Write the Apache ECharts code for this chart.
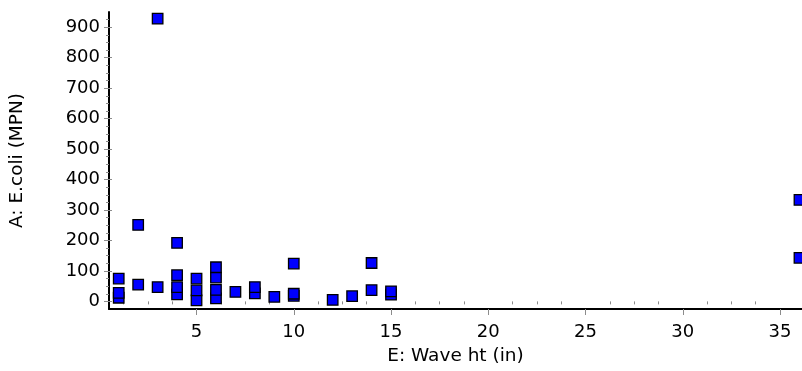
<!DOCTYPE html>
<html>
<head>
<meta charset="utf-8">
<script src="https://cdn.jsdelivr.net/npm/echarts@6/dist/echarts.min.js"></script>
<style>
html,body{margin:0;padding:0;background:#fff;}
#chart{width:802px;height:371px;}
</style>
</head>
<body>
<div id="chart"></div>
<script>
// Data (E: Wave ht (in) vs A: E.coli (MPN))
var waveHt = [1, 1, 1, 2, 2, 3, 3, 4, 4, 4, 4, 5, 5, 5, 6, 6, 6, 6, 7, 8, 8, 9, 10, 10, 10, 12, 13, 14, 14, 15, 15, 36, 36];
var ecoli  = [12, 28, 75, 251, 55, 928, 47, 192, 23, 47, 86, 3, 36, 75, 10, 38, 78, 112, 31, 26, 47, 15, 18, 25, 124, 5, 17, 37, 126, 22, 33, 333, 143];

var xTicks = [5, 10, 15, 20, 25, 30, 35];
var yTicks = [0, 100, 200, 300, 400, 500, 600, 700, 800, 900];
var xMinorTicks = [1.25, 2.5, 3.75, 6.25, 7.5, 8.75, 11.25, 12.5, 13.75, 16.25, 17.5, 18.75, 21.25, 22.5, 23.75, 26.25, 27.5, 28.75, 31.25, 32.5, 33.75];
var yMinorTicks = [25, 50, 75, 125, 150, 175, 225, 250, 275, 325, 350, 375, 425, 450, 475, 525, 550, 575, 625, 650, 675, 725, 750, 775, 825, 850, 875, 925];

var xMin = 0.5, xMax = 36.13, yMin = -25, yMax = 950;

var points = waveHt.map(function (x, i) { return [x, ecoli[i]]; });

var FONT = 'DejaVu Sans';
var tickColor = '#8c8c8c';

var chart = echarts.init(document.getElementById('chart'), null, {renderer: 'canvas'});
chart.setOption({
  animation: false,
  backgroundColor: '#ffffff',
  grid: {left: 109, right: 0, top: 12, bottom: 61, containLabel: false},
  xAxis: [
    {
      type: 'value', min: xMin, max: xMax, position: 'bottom',
      name: 'E: Wave ht (in)', nameLocation: 'middle', nameGap: 38,
      nameTextStyle: {fontFamily: FONT, fontSize: 18.5, color: '#000'},
      axisLine: {show: true, onZero: false, lineStyle: {color: '#000', width: 2}},
      axisTick: {show: true, length: 6, customValues: xTicks, lineStyle: {color: tickColor, width: 1}},
      axisLabel: {show: true, customValues: xTicks, margin: 14, fontFamily: FONT, fontSize: 18, color: '#000'},
      splitLine: {show: false}
    },
    {
      type: 'value', min: xMin, max: xMax, position: 'bottom',
      axisLine: {show: false},
      axisTick: {show: true, length: 3, customValues: xMinorTicks, lineStyle: {color: tickColor, width: 1}},
      axisLabel: {show: false, customValues: xMinorTicks},
      splitLine: {show: false}
    }
  ],
  yAxis: [
    {
      type: 'value', min: yMin, max: yMax, position: 'left',
      name: 'A: E.coli (MPN)', nameLocation: 'middle', nameGap: 82, nameRotate: 90,
      nameTextStyle: {fontFamily: FONT, fontSize: 18.5, color: '#000'},
      axisLine: {show: true, onZero: false, lineStyle: {color: '#000', width: 2}},
      axisTick: {show: true, length: 5, customValues: yTicks, lineStyle: {color: tickColor, width: 1}},
      axisLabel: {show: true, customValues: yTicks, margin: 9, fontFamily: FONT, fontSize: 18, color: '#000'},
      splitLine: {show: false}
    },
    {
      type: 'value', min: yMin, max: yMax, position: 'left',
      axisLine: {show: false},
      axisTick: {show: true, length: 3, customValues: yMinorTicks, lineStyle: {color: tickColor, width: 1}},
      axisLabel: {show: false, customValues: yMinorTicks},
      splitLine: {show: false}
    },
    {
      type: 'value', min: yMin, max: yMax, position: 'left',
      axisLine: {show: false},
      axisTick: {show: true, inside: true, length: 3, customValues: yTicks, lineStyle: {color: tickColor, width: 1}},
      axisLabel: {show: false, customValues: yTicks},
      splitLine: {show: false}
    }
  ],
  series: [{
    type: 'scatter',
    xAxisIndex: 0, yAxisIndex: 0,
    data: points,
    symbol: 'rect',
    symbolSize: 10.5,
    clip: false,
    itemStyle: {color: '#0000ff', borderColor: '#000', borderWidth: 1.3, opacity: 1},
    z: 5
  }]
});
</script>
</body>
</html>
